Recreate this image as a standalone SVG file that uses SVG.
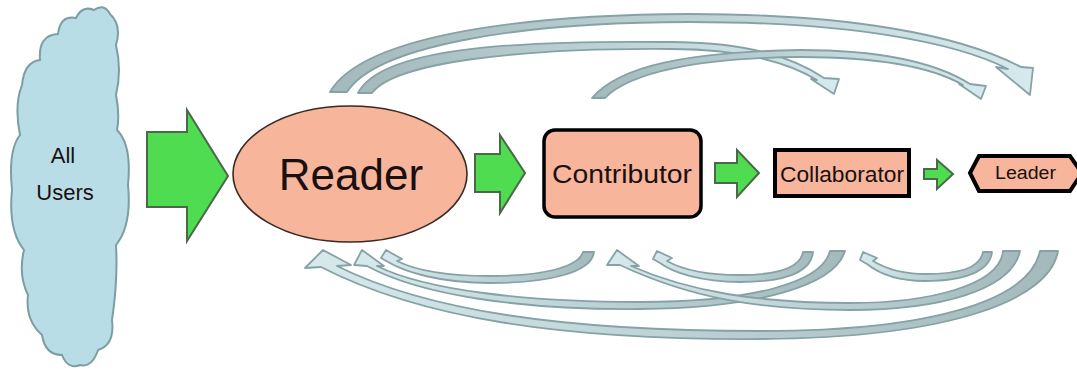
<svg xmlns="http://www.w3.org/2000/svg" width="1077" height="371" viewBox="0 0 1077 371">
<defs>
<linearGradient id="gL2R" x1="0" y1="0" x2="1" y2="0">
<stop offset="0" stop-color="#a3b9bc"/><stop offset="1" stop-color="#d6eaee"/>
</linearGradient>
<linearGradient id="gR2L" x1="1" y1="0" x2="0" y2="0">
<stop offset="0" stop-color="#a3b9bc"/><stop offset="1" stop-color="#d6eaee"/>
</linearGradient>
<style>
.t{font-family:"Liberation Sans",Arial,sans-serif;fill:#1a1010}
.node{fill:#f7b59b}
.green{fill:#50dc50;stroke:#4a684a;stroke-width:2;stroke-linejoin:miter}
.top{fill:url(#gL2R);stroke:#87a2a5;stroke-width:1.8;stroke-linejoin:round}
.bot{fill:url(#gR2L);stroke:#87a2a5;stroke-width:1.8;stroke-linejoin:round}
</style>
</defs>
<rect width="1077" height="371" fill="#ffffff"/>

<g id="all-users">
<path d="M40,60 Q38,35 58,34 Q60,15 76,18 Q82,5 94,10 Q104,3 110,14 Q122,25 116,45 Q122,70 116,95 Q120,115 117,130 Q132,145 128,185 Q132,225 116,245 Q118,280 112,320 Q115,345 98,350 Q92,368 80,365 Q68,370 62,355 Q45,355 42,335 Q25,320 28,295 Q18,275 24,250 Q8,230 12,190 Q8,150 20,135 Q14,105 22,85 Q24,62 40,60 Z" fill="#b8dde6" stroke="#7c9ea2" stroke-width="2"/>
<text class="t" x="63" y="163" font-size="22" text-anchor="middle">All</text>
<text class="t" x="65" y="200" font-size="22" text-anchor="middle">Users</text>
</g>

<g id="reader">
<ellipse class="node" cx="350" cy="174" rx="117" ry="68" stroke="#3a2a22" stroke-width="1.6"/>
<text class="t" x="351" y="190" font-size="44" text-anchor="middle">Reader</text>
</g>

<g id="contributor">
<rect class="node" x="544" y="130" width="157" height="87" rx="11" stroke="#000" stroke-width="3.5"/>
<text class="t" x="552" y="183" font-size="26" textLength="140" lengthAdjust="spacingAndGlyphs">Contributor</text>
</g>

<g id="collaborator">
<rect class="node" x="775" y="150" width="134" height="46" stroke="#000" stroke-width="4"/>
<text class="t" x="780" y="182" font-size="22" textLength="124" lengthAdjust="spacingAndGlyphs">Collaborator</text>
</g>

<g id="leader">
<polygon class="node" points="970,173 979,156 1070,156 1082,173 1070,191 979,191" stroke="#000" stroke-width="4" stroke-linejoin="miter"/>
<text class="t" x="995" y="179" font-size="18" textLength="61" lengthAdjust="spacingAndGlyphs" fill="#3a2020">Leader</text>
</g>

<g id="connectors">
<!-- green forward arrows -->
<polygon class="green" points="147,132 187,132 187,110 228,176 187,241 187,207 147,207"/>
<polygon class="green" points="475,154 500,154 500,135 525,173 500,213 500,192 475,192"/>
<polygon class="green" points="715,163 737,163 737,150 759,173 737,197 737,183 715,183"/>
<polygon class="green" points="924,169 937,169 937,160 953,174 937,189 937,179 924,179"/>

<!-- top curved arrows -->
<path class="top" d="M330,92 C360,40 500,15 690,14 C850,14 960,35 1021,67 L1033,68 L1030,95 L996,67 L1008,69 C955,42 850,22 690,22 C510,22 375,48 347,92 Z"/>
<path class="top" d="M358,93 C380,50 500,40 670,42 C740,42 790,55 824,78 L839,79 L834,94 L811,79 L817,80 C785,61 740,49 670,49 C520,48 395,62 372,93 Z"/>
<path class="top" d="M592,98 C620,65 690,52 800,50 C880,50 935,62 970,84 L986,86 L981,99 L959,84 L963,85 C930,66 875,57 800,57 C700,58 630,72 605,98 Z"/>

<!-- bottom curved arrows -->
<path class="bot" d="M1058,251 C1050,300 950,338 760,339 C560,340 420,318 321,267 L305,268 L323,250 L351,265 L337,266 C425,310 560,331 760,331 C940,331 1030,298 1040,251 Z"/>
<path class="bot" d="M845,251 C835,285 760,308 640,309 C520,310 420,295 367,266 L354,265 L362,250 L384,266 L377,266 C425,290 525,302 640,302 C750,302 822,283 830,251 Z"/>
<path class="bot" d="M1020,251 C1012,290 940,310 850,310 C760,310 690,298 620,265 L607,265 L617,250 L639,266 L631,266 C690,292 760,303 850,303 C930,303 1000,285 1003,251 Z"/>
<path class="bot" d="M594,252 C592,272 550,283 490,283 C440,283 405,272 388,262 L381,258 L386,250 L402,259 L397,261 C415,270 445,276 490,276 C540,276 578,268 583,252 Z"/>
<path class="bot" d="M813,252 C811,272 785,282 740,282 C700,282 672,272 660,263 L653,259 L657,251 L672,258 L667,261 C683,270 708,275 740,275 C778,275 800,268 803,252 Z"/>
<path class="bot" d="M992,252 C990,271 965,281 925,281 C895,281 877,272 867,264 L860,260 L863,252 L877,258 L873,261 C888,270 905,274 925,274 C960,274 980,268 983,252 Z"/>
</g>
</svg>
